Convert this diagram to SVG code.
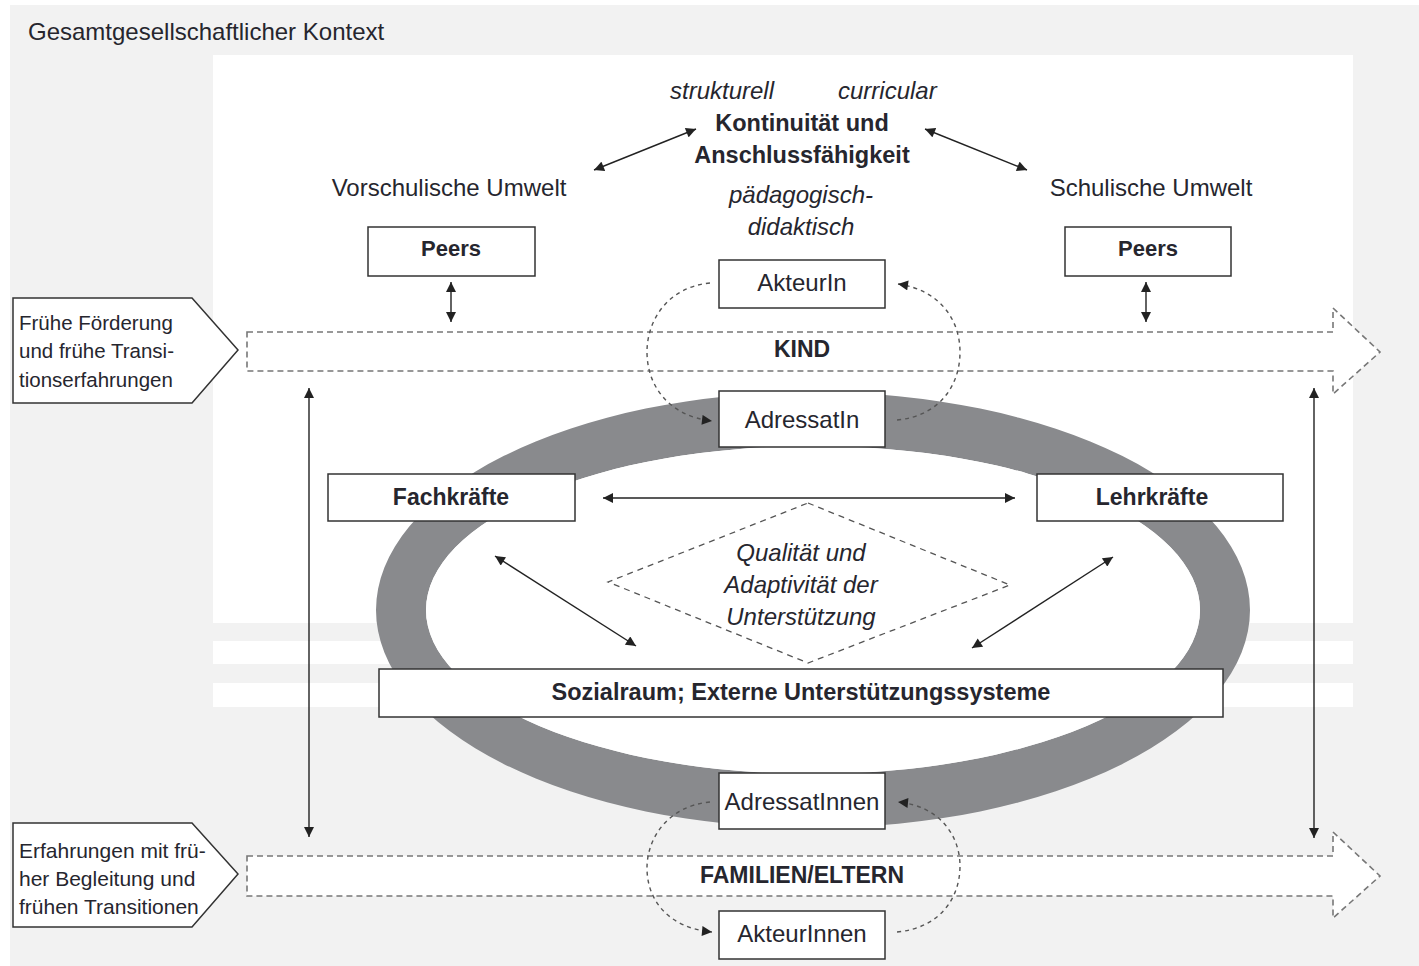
<svg xmlns="http://www.w3.org/2000/svg" width="1419" height="966" viewBox="0 0 1419 966">
<defs>
<marker id="ah" viewBox="0 0 10 10" refX="10" refY="5" markerWidth="11" markerHeight="10" markerUnits="userSpaceOnUse" orient="auto-start-reverse"><path d="M0,0 L10,5 L0,10 z" fill="#222"/></marker>
<marker id="ahs" viewBox="0 0 10 10" refX="10" refY="5" markerWidth="11" markerHeight="10" markerUnits="userSpaceOnUse" orient="auto-start-reverse"><path d="M0,0 L10,5 L0,10 z" fill="#222"/></marker>
<style>
text{font-family:"Liberation Sans",Arial,sans-serif;fill:#26262e}
.b{font-weight:bold}
.i{font-style:italic}
.c{text-anchor:middle}
.box{fill:#fff;stroke:#333;stroke-width:1.5}
.ln{stroke:#222;stroke-width:1.4;fill:none}
.dl{stroke:#555;stroke-width:1.4;fill:none;stroke-dasharray:4 4}
.bar{fill:#fff;stroke:#777;stroke-width:1.6;stroke-dasharray:6 4}
</style>
</defs>
<rect x="0" y="0" width="1419" height="966" fill="#fff"/>
<rect x="10" y="5" width="1409" height="961" fill="#f2f2f2"/>
<rect x="213" y="55" width="1140" height="568" fill="#fff"/>
<rect x="213" y="641" width="1140" height="23" fill="#fff"/>
<rect x="213" y="683" width="1140" height="24" fill="#fff"/>
<text x="28" y="40" font-size="24">Gesamtgesellschaftlicher Kontext</text>

<g id="ring">
<path d="M376,610 a437,218 0 1,0 874,0 a437,218 0 1,0 -874,0 z M426,610 a387,164 0 1,0 774,0 a387,164 0 1,0 -774,0 z" fill="#898a8d" fill-rule="evenodd"/>
<ellipse cx="813" cy="610" rx="387" ry="164" fill="#fff"/>
</g>

<g id="kind-bar">
<path class="bar" d="M247,332 L1333,332 L1333,308 L1380,352 L1333,394 L1333,371 L247,371 z"/>
<text class="b c" x="802" y="357" font-size="23">KIND</text>
</g>
<g id="familien-bar">
<path class="bar" d="M247,856 L1333,856 L1333,832 L1380,876 L1333,918 L1333,896 L247,896 z"/>
<text class="b c" x="802" y="883" font-size="23">FAMILIEN/ELTERN</text>
</g>

<g id="callout-top">
<path d="M13,298 L192,298 L238,350 L192,403 L13,403 z" fill="#fff" stroke="#333" stroke-width="1.5"/>
<text x="19" y="330" font-size="20.5">Frühe Förderung</text>
<text x="19" y="358" font-size="20.5">und frühe Transi-</text>
<text x="19" y="387" font-size="20.5">tionserfahrungen</text>
</g>
<g id="callout-bottom">
<path d="M13,823 L192,823 L238,874 L192,927 L13,927 z" fill="#fff" stroke="#333" stroke-width="1.5"/>
<text x="19" y="858" font-size="21">Erfahrungen mit frü-</text>
<text x="19" y="886" font-size="21">her Begleitung und</text>
<text x="19" y="914" font-size="21">frühen Transitionen</text>
</g>

<g id="kontinuitaet">
<text class="i" x="670" y="99" font-size="24">strukturell</text>
<text class="i" x="838" y="99" font-size="24">curricular</text>
<text class="b c" x="802" y="131" font-size="23.5">Kontinuität und</text>
<text class="b c" x="802" y="163" font-size="23.5">Anschlussfähigkeit</text>
<text class="i c" x="801" y="203" font-size="24">pädagogisch-</text>
<text class="i c" x="801" y="235" font-size="24">didaktisch</text>
</g>
<g id="vorschulisch">
<text class="c" x="449" y="196" font-size="24">Vorschulische Umwelt</text>
</g>
<g id="schulisch">
<text class="c" x="1151" y="196" font-size="24">Schulische Umwelt</text>
</g>
<g id="peers-left">
<rect class="box" x="368" y="227" width="167" height="49"/>
<text class="b c" x="451" y="256" font-size="22">Peers</text>
</g>
<g id="peers-right">
<rect class="box" x="1065" y="227" width="166" height="49"/>
<text class="b c" x="1148" y="256" font-size="22">Peers</text>
</g>
<g id="akteurin">
<rect class="box" x="719" y="260" width="166" height="48"/>
<text class="c" x="802" y="291" font-size="24">AkteurIn</text>
</g>
<g id="adressatin">
<rect class="box" x="719" y="391" width="166" height="56"/>
<text class="c" x="802" y="428" font-size="24">AdressatIn</text>
</g>
<g id="fachkraefte">
<rect class="box" x="328" y="474" width="247" height="47"/>
<text class="b c" x="451" y="505" font-size="23">Fachkräfte</text>
</g>
<g id="lehrkraefte">
<rect class="box" x="1037" y="474" width="246" height="47"/>
<text class="b c" x="1152" y="505" font-size="23">Lehrkräfte</text>
</g>
<g id="qualitaet">
<path d="M808,503 L1010,585 L808,663 L608,582 z" fill="none" stroke="#555" stroke-width="1.3" stroke-dasharray="6 5"/>
<text class="i c" x="801" y="561" font-size="24">Qualität und</text>
<text class="i c" x="801" y="593" font-size="24">Adaptivität der</text>
<text class="i c" x="801" y="625" font-size="24">Unterstützung</text>
</g>
<g id="sozialraum">
<rect class="box" x="379" y="669" width="844" height="48"/>
<text class="b c" x="801" y="700" font-size="23.5">Sozialraum; Externe Unterstützungssysteme</text>
</g>
<g id="adressatinnen">
<rect class="box" x="719" y="773" width="166" height="56"/>
<text class="c" x="802" y="810" font-size="24">AdressatInnen</text>
</g>
<g id="akteurinnen">
<rect class="box" x="719" y="911" width="166" height="48"/>
<text class="c" x="802" y="942" font-size="24">AkteurInnen</text>
</g>

<g id="connectors">
<line class="ln" x1="594" y1="170" x2="696" y2="129" marker-start="url(#ah)" marker-end="url(#ah)"/>
<line class="ln" x1="925" y1="129" x2="1027" y2="170" marker-start="url(#ah)" marker-end="url(#ah)"/>
<line class="ln" x1="451" y1="282" x2="451" y2="322" marker-start="url(#ahs)" marker-end="url(#ahs)"/>
<line class="ln" x1="1146" y1="282" x2="1146" y2="322" marker-start="url(#ahs)" marker-end="url(#ahs)"/>
<line class="ln" x1="603" y1="498" x2="1015" y2="498" marker-start="url(#ah)" marker-end="url(#ah)"/>
<line class="ln" x1="495" y1="556" x2="636" y2="646" marker-start="url(#ah)" marker-end="url(#ah)"/>
<line class="ln" x1="1113" y1="557" x2="972" y2="648" marker-start="url(#ah)" marker-end="url(#ah)"/>
<line class="ln" x1="309" y1="388" x2="309" y2="837" marker-start="url(#ah)" marker-end="url(#ah)"/>
<line class="ln" x1="1314" y1="388" x2="1314" y2="838" marker-start="url(#ah)" marker-end="url(#ah)"/>
<path class="dl" d="M710,283 C668,287 647,320 647,352 C647,385 668,416 712,421" marker-end="url(#ahs)"/>
<path class="dl" d="M897,420 C940,416 960,385 960,352 C960,320 940,290 898,284" marker-end="url(#ahs)"/>
<path class="dl" d="M710,802 C668,806 647,838 647,868 C647,900 668,928 712,932" marker-end="url(#ahs)"/>
<path class="dl" d="M897,932 C940,928 960,898 960,866 C960,836 940,806 898,802" marker-end="url(#ahs)"/>
</g>
</svg>
